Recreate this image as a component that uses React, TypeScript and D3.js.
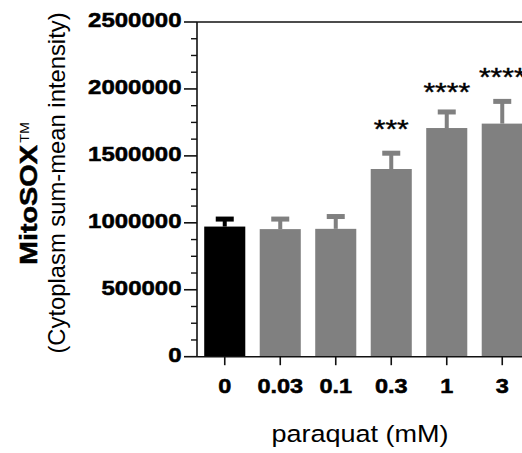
import React from 'react';
import * as d3 from 'd3';

// paraquat doses (mM) and MitoSOX cytoplasm sum-mean intensity
const doses = ['0', '0.03', '0.1', '0.3', '1', '3'];
const means = [972000, 953000, 955000, 1402000, 1708000, 1741000];
const sems = [56000, 75000, 92000, 118000, 120000, 166000];
const stars = ['', '', '', '***', '****', '****'];
const starLevels = [0, 0, 0, 1748000, 2019000, 2132000];
const majorTicks = [0, 500000, 1000000, 1500000, 2000000, 2500000];

const width = 522;
const height = 453;
const margin = { top: 22, left: 197, bottom: 96.3, rightEdge: 530 };
const font = '"Liberation Sans", Arial, Helvetica, sans-serif';
const axisColor = '#111';
// the picture is slightly squashed vertically, so horizontal text gets a y-scale
const squash = 0.87;

const App = () => {
  const x = d3.scaleBand<string>()
    .domain(doses)
    .range([margin.left, margin.rightEdge])
    .paddingInner(0.26)
    .paddingOuter(0.13);
  const y = d3.scaleLinear()
    .domain([0, 2500000])
    .range([height - margin.bottom, margin.top]);

  const minorTicks = d3.range(0, 2500001, 125000).filter(v => v % 500000 !== 0);
  const bw = x.bandwidth();
  const base = y(0);

  return (
    <svg width={width} height={height}
      style={{ position: 'absolute', left: 0, top: 0, background: '#fff' }}
      fontFamily={font}>

      {/* bars with upward SEM whiskers */}
      {doses.map((d, i) => {
        const color = i === 0 ? '#000' : '#808080';
        const cx = x(d)! + bw / 2;
        const top = y(means[i]);
        const errTop = y(means[i] + sems[i]);
        return (
          <g key={d}>
            <rect x={x(d)} y={top} width={bw} height={base - top} fill={color} />
            <rect x={cx - 2} y={errTop} width={4} height={top - errTop} fill={color} />
            <rect x={cx - 9} y={errTop - 2.5} width={18} height={5} fill={color} />
          </g>
        );
      })}

      {/* significance stars */}
      {doses.map((d, i) => stars[i] ? (
        <text key={'s' + d}
          transform={`translate(${x(d)! + bw / 2}, ${y(starLevels[i]) + 15}) scale(1,${squash})`}
          textAnchor="middle" fontSize={30} fill="#000" stroke="#000" strokeWidth={0.5}>{stars[i]}</text>
      ) : null)}

      {/* frame: y axis, top line, x axis */}
      <line x1={margin.left} x2={margin.left} y1={margin.top} y2={base} stroke={axisColor} strokeWidth={1.6} />
      <line x1={margin.left} x2={margin.rightEdge} y1={margin.top} y2={margin.top} stroke={axisColor} strokeWidth={1.6} />
      <line x1={margin.left} x2={margin.rightEdge} y1={base} y2={base} stroke={axisColor} strokeWidth={1.6} />

      {/* y ticks */}
      {minorTicks.map(v => (
        <line key={'m' + v} x1={margin.left - 6} x2={margin.left} y1={y(v)} y2={y(v)} stroke={axisColor} strokeWidth={1.4} />
      ))}
      {majorTicks.map(v => (
        <g key={'M' + v}>
          <line x1={margin.left - 13} x2={margin.left} y1={y(v)} y2={y(v)} stroke={axisColor} strokeWidth={1.6} />
          <text transform={`translate(${margin.left - 15.5}, ${y(v) + 5.3}) scale(1,${squash})`}
            textAnchor="end" fontSize={24} fontWeight="bold" fill="#000"
            stroke="#000" strokeWidth={0.6}>{v}</text>
        </g>
      ))}

      {/* x ticks */}
      {doses.map(d => {
        const cx = x(d)! + bw / 2;
        return (
          <g key={'x' + d}>
            <line x1={cx} x2={cx} y1={base} y2={base + 8.5} stroke={axisColor} strokeWidth={1.6} />
            <text transform={`translate(${cx}, ${base + 36}) scale(1,${squash})`}
              textAnchor="middle" fontSize={23.5} fontWeight="bold" fill="#000"
              stroke="#000" strokeWidth={0.6}>{d}</text>
          </g>
        );
      })}

      {/* axis titles */}
      <text transform={`translate(360, 441.5) scale(1,${squash})`} textAnchor="middle" fontSize={27} fill="#000">
        paraquat (mM)
      </text>
      <text transform="translate(36.7, 193.5) rotate(-90) scale(1.2,1)" textAnchor="middle" fill="#000">
        <tspan fontSize={24} fontWeight="bold" stroke="#000" strokeWidth={0.5}>MitoSOX</tspan>
        <tspan fontSize={12} dx={2} dy={-8}>TM</tspan>
      </text>
      <text transform="translate(65, 183) rotate(-90)" textAnchor="middle" fontSize={23.8} fill="#000">
        (Cytoplasm sum-mean intensity)
      </text>
    </svg>
  );
};

export default App;
